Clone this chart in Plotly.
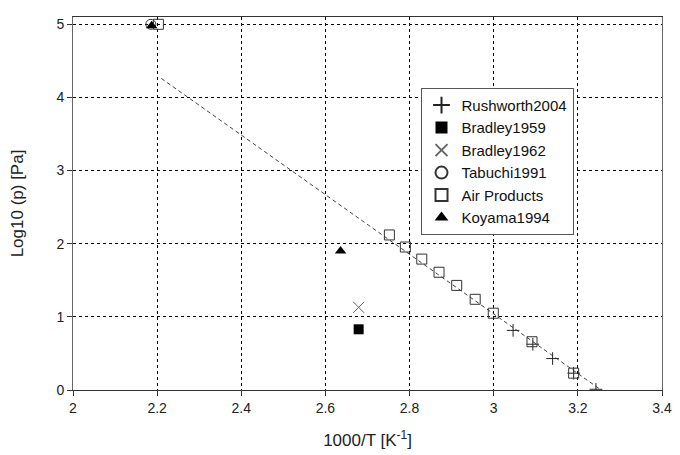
import plotly.graph_objects as go

rush_x = [3.046, 3.093, 3.14, 3.19, 3.243]
rush_y = [0.815, 0.626, 0.43, 0.23, 0.01]
brad59_x = [2.679]
brad59_y = [0.83]
brad62_x = [2.679]
brad62_y = [1.13]
tab_x = [2.185]
tab_y = [5.0]
air_x = [2.203, 2.752, 2.79, 2.829, 2.870, 2.912, 2.956, 2.999, 3.091, 3.19]
air_y = [5.0, 2.12, 1.955, 1.79, 1.61, 1.43, 1.24, 1.05, 0.66, 0.23]
koy_x = [2.187, 2.636]
koy_y = [4.98, 1.90]
trend_x = [2.21, 3.27]
trend_y = [4.26, -0.06]

fig = go.Figure()
fig.add_trace(go.Scatter(x=trend_x, y=trend_y, mode="lines", showlegend=False,
                         line=dict(color="#444", width=1, dash="4px,3px")))
fig.add_trace(go.Scatter(x=rush_x, y=rush_y, mode="markers", name="Rushworth2004",
                         marker=dict(symbol="cross-thin-open", size=9, color="#222", line=dict(color="#222", width=1))))
fig.add_trace(go.Scatter(x=brad59_x, y=brad59_y, mode="markers", name="Bradley1959",
                         marker=dict(symbol="square", size=10, color="black")))
fig.add_trace(go.Scatter(x=brad62_x, y=brad62_y, mode="markers", name="Bradley1962",
                         marker=dict(symbol="x-thin-open", size=11, color="#666", line=dict(color="#666", width=1))))
fig.add_trace(go.Scatter(x=tab_x, y=tab_y, mode="markers", name="Tabuchi1991",
                         marker=dict(symbol="circle-open", size=10, color="#333", line=dict(color="#333", width=1))))
fig.add_trace(go.Scatter(x=air_x, y=air_y, mode="markers", name="Air Products",
                         marker=dict(symbol="square-open", size=10, color="#333", line=dict(color="#333", width=1))))
fig.add_trace(go.Scatter(x=koy_x, y=koy_y, mode="markers", name="Koyama1994",
                         marker=dict(symbol="triangle-up", size=10, color="black")))

fig.update_layout(
    width=672, height=447,
    margin=dict(l=65, r=12, t=8, b=64),
    paper_bgcolor="white", plot_bgcolor="white",
    font=dict(family="Liberation Sans, Arial, sans-serif", size=14, color="#222"),
    legend=dict(x=0.59, y=0.81, xanchor="left", yanchor="top",
                bgcolor="white", bordercolor="#555", borderwidth=1,
                font=dict(size=15, color="#111"), tracegroupgap=0,
                itemsizing="constant", itemwidth=30),
)
fig.update_xaxes(range=[2, 3.4], dtick=0.2, tick0=2, showgrid=True, gridcolor="black",
                 griddash="3px,3px", gridwidth=1, zeroline=False,
                 showline=True, linecolor="#333", linewidth=1, mirror=True,
                 ticks="outside", ticklen=5, tickcolor="#333",
                 title=dict(text="1000/T [K<sup>-1</sup>]", standoff=19))
fig.update_yaxes(range=[0, 5.1], dtick=1, tick0=0, showgrid=True, gridcolor="black",
                 griddash="3px,3px", gridwidth=1, zeroline=False,
                 showline=True, linecolor="#666", linewidth=1, mirror=True,
                 ticks="outside", ticklen=5, tickcolor="#333",
                 title=dict(text="Log10 (p) [Pa]", standoff=28))
fig.write_html("out.html")
